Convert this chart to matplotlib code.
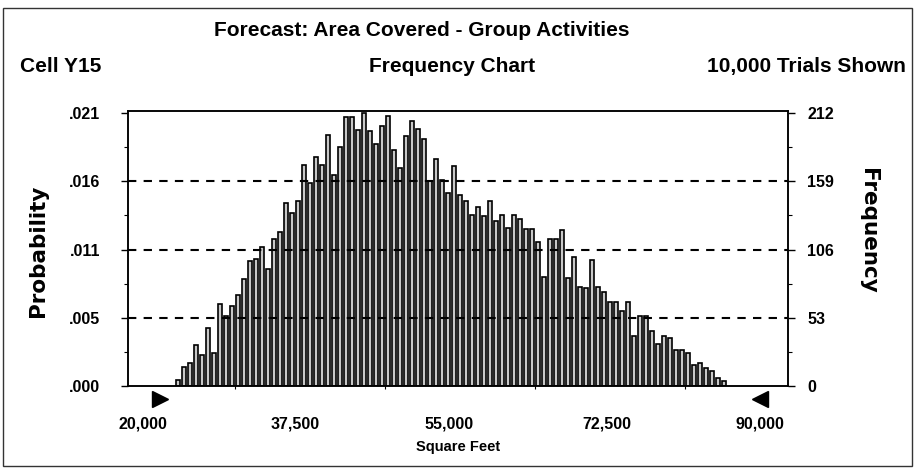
import numpy as np
import matplotlib
matplotlib.use('Agg')
import matplotlib.pyplot as plt
from matplotlib.patches import Rectangle
from matplotlib.ticker import FixedLocator, NullFormatter
from matplotlib.transforms import ScaledTranslation

# --
# data (10,000 trials, bins of 700 sq ft)

bin_start = 22100
bin_width = 700
counts = [5, 15, 18, 32, 24, 45, 26, 64, 54, 62,
          71, 83, 97, 99, 108, 91, 114, 120, 142, 134,
          144, 172, 158, 178, 172, 195, 164, 186, 209, 209,
          199, 212,
          198, 188, 202, 210, 183, 169, 194, 206, 200, 192,
          159, 176, 160, 150, 171, 148, 144, 133, 139, 132,
          144, 128, 133, 123, 133, 130, 122, 122, 112, 85,
          114, 114, 121, 84, 100,
          77, 76, 98, 77, 73, 65, 65, 58, 65, 39,
          54, 54, 43, 33, 39, 37, 28, 28, 26, 16,
          18, 14, 12, 6, 4]
trials = 10000

freq_ticks = [0, 53, 106, 159, 212]
prob_labels = ['.000', '.005', '.011', '.016', '.021']
x_ticks = [20000, 37500, 55000, 72500, 90000]
x_labels = ['20,000', '37,500', '55,000', '72,500', '90,000']
cert_range = [20000, 90000]

title = 'Forecast: Area Covered - Group Activities'

# --
# fonts

plt.rcParams['font.family'] = ['Liberation Sans', 'DejaVu Sans']
plt.rcParams['font.weight'] = 'bold'
plt.rcParams['axes.labelweight'] = 'bold'

x = bin_start + bin_width * np.arange(len(counts))

fig = plt.figure(figsize=(9.16, 4.68), dpi=100)
ax = fig.add_axes([128 / 916, 1 - 386 / 468, 660 / 916, 275 / 468])

ax.bar(x, counts, width=bin_width * 0.7, facecolor='#c8c8c8',
       edgecolor='black', linewidth=1.2, zorder=2)

for f in freq_ticks[1:-1]:
    ax.axhline(f, color='black', lw=1.5, dashes=(4, 3.5), zorder=3)

ax.set_xlim(16280, 93250)
ax.set_ylim(0, 213.6)

# left axis: probability
ax.yaxis.set_major_locator(FixedLocator(freq_ticks))
ax.set_yticklabels(prob_labels)
ax.yaxis.set_minor_locator(FixedLocator([26.5, 79.5, 132.5, 185.5]))
ax.tick_params(axis='y', which='major', length=5, width=1, pad=15, labelsize=11.5)
ax.tick_params(axis='y', which='minor', length=3, width=0.8)

# x axis (labels sit a little left of their ticks in the original)
ax.xaxis.set_major_locator(FixedLocator(x_ticks))
ax.set_xticklabels(x_labels)
ax.xaxis.set_minor_locator(FixedLocator(np.arange(20000, 90001, 8750)))
ax.xaxis.set_minor_formatter(NullFormatter())
ax.tick_params(axis='x', which='major', length=0, pad=22, labelsize=11.5)
ax.tick_params(axis='x', which='minor', length=2, width=0.8)
shifts = [-17, -15, -11, -3, 0]
for lab, dx in zip(ax.get_xticklabels(), shifts):
    lab.set_transform(lab.get_transform() + ScaledTranslation(dx / 100, 0, fig.dpi_scale_trans))
ax.set_xlabel('Square Feet', fontsize=10.5, labelpad=6)

ax.set_ylabel('Probability', fontsize=15.5, family=['DejaVu Sans'], fontweight='bold')
ax.yaxis.set_label_coords(-0.121, 0.49)

# right axis: frequency
ax2 = ax.twinx()
ax2.set_ylim(ax.get_ylim())
ax2.yaxis.set_major_locator(FixedLocator(freq_ticks))
ax2.set_yticklabels([str(f) for f in freq_ticks])
ax2.yaxis.set_minor_locator(FixedLocator([26.5, 79.5, 132.5, 185.5]))
ax2.tick_params(axis='y', which='major', length=5, width=1, pad=9, labelsize=11.5)
ax2.tick_params(axis='y', which='minor', length=3, width=0.8)
ax2.set_ylabel('Frequency', fontsize=15.5, rotation=270,
               family=['DejaVu Sans'], fontweight='bold')
ax2.yaxis.set_label_coords(1.137, 0.565)

for a in (ax, ax2):
    for s in a.spines.values():
        s.set_linewidth(1.1)

# certainty range markers
ax.plot([cert_range[0]], [-0.047], marker='>', ms=11, color='black',
        transform=ax.get_xaxis_transform(), clip_on=False)
ax.plot([cert_range[1]], [-0.047], marker='<', ms=11, color='black',
        transform=ax.get_xaxis_transform(), clip_on=False)

# header texts
fig.text(422 / 916, 1 - 30 / 468, title, ha='center', va='center', fontsize=15)
fig.text(20 / 916, 1 - 67 / 468, 'Cell Y15', ha='left', va='center', fontsize=15)
fig.text(452 / 916, 1 - 67 / 468, 'Frequency Chart', ha='center', va='center', fontsize=15)
fig.text(906 / 916, 1 - 67 / 468, '{:,} Trials Shown'.format(trials), ha='right',
         va='center', fontsize=15)

# outer frame
fig.patches.append(Rectangle((3 / 916, 2 / 468), 909 / 916, 458 / 468,
                             transform=fig.transFigure, fill=False,
                             edgecolor='#333333', lw=1))

plt.savefig('out.png', dpi=100)
